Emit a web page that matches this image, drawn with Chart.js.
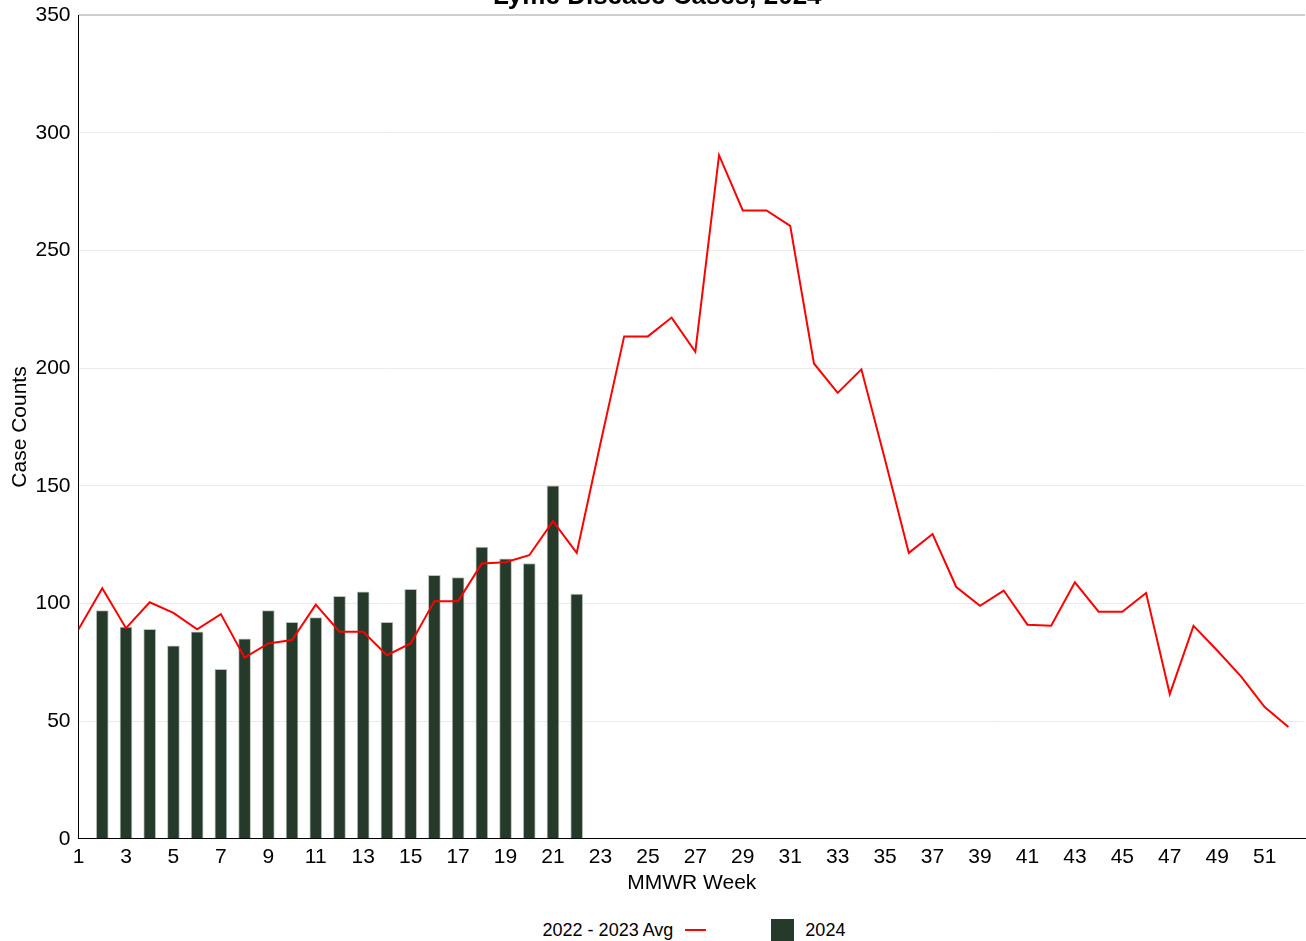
<!DOCTYPE html>
<html>
<head>
<meta charset="utf-8">
<script src="https://cdn.jsdelivr.net/npm/chart.js@4/dist/chart.umd.min.js"></script>
<style>
  html, body { margin: 0; padding: 0; background: #fff; }
  #wrap { position: relative; width: 1306px; height: 941px; overflow: hidden; }
  #chartBox { position: absolute; left: 0; top: -20px; width: 1306px; height: 922px; }
  #legend { position: absolute; left: 41px; top: 918px; width: 1306px; display: flex; justify-content: center;
            font-family: "Liberation Sans", Arial, sans-serif; font-size: 18px; color: #000; }
  .item { display: flex; align-items: center; height: 24px; }
  .line { width: 21px; height: 2px; margin-left: 12px; }
  .box { width: 23px; height: 23px; margin-right: 11px; }
</style>
</head>
<body>
<div id="wrap">
  <div id="chartBox"><canvas id="lymeChart"></canvas></div>
  <div id="legend"></div>
</div>
<script>
// MMWR weeks 1..52
const weeks = [1, 2, 3, 4, 5, 6, 7, 8, 9, 10, 11, 12, 13, 14, 15, 16, 17, 18, 19, 20, 21, 22, 23, 24, 25, 26,
               27, 28, 29, 30, 31, 32, 33, 34, 35, 36, 37, 38, 39, 40, 41, 42, 43, 44, 45, 46, 47, 48, 49, 50, 51, 52];
const weekTicks = [1, 3, 5, 7, 9, 11, 13, 15, 17, 19, 21, 23, 25, 27, 29, 31, 33, 35, 37, 39, 41, 43, 45, 47, 49, 51];
const yTicks = [0, 50, 100, 150, 200, 250, 300, 350];

// 2022 - 2023 average (red line)
const avg2223 = [89, 106.5, 89.5, 100.5, 96, 89, 95.5, 77, 83, 84.5, 99.5, 88, 88, 78, 83, 101, 101, 117, 117.5, 120.5, 135, 121.5,
                 168, 213.5, 213.5, 221.5, 207, 290.5, 267, 267, 260.5, 202, 189.5, 199.5, 161, 121.5, 129.5, 107, 99, 105.5,
                 91, 90.5, 109, 96.5, 96.5, 104.5, 61.5, 90.5, 80, 69, 56, 47.5];
// 2024 weekly cases (bars), week 1 not shown
const cases2024 = [null, 97, 90, 89, 82, 88, 72, 85, 97, 92, 94, 103, 105, 92, 106, 112, 111, 124, 119, 117, 150, 104];

const legendLabels = ['2022 - 2023 Avg', '2024'];

const lineColor = '#ff0000';
const barColor = '#263a2b';

const ctx = document.getElementById('lymeChart');
const lymeChart = new Chart(ctx, {
    data: {
        datasets: [{
                type: 'line',
                label: legendLabels[0],
                data: weeks.map((w, i) => ({ x: w, y: avg2223[i] })),
                borderColor: lineColor,
                backgroundColor: lineColor,
                borderWidth: 2,
                pointRadius: 0,
                tension: 0,
                order: 0
            },
            {
                type: 'bar',
                label: legendLabels[1],
                data: cases2024.map((v, i) => ({ x: weeks[i], y: v })),
                backgroundColor: barColor,
                borderColor: 'rgba(140,150,140,0.6)',
                borderWidth: 1,
                barThickness: 12,
                order: 1
            }
        ]
    },
    options: {
        responsive: true,
        maintainAspectRatio: false,
        animation: false,
        layout: {
            padding: { left: 9.5, right: 1, top: 0, bottom: 8 }
        },
        plugins: {
            legend: { display: false },
            tooltip: { enabled: false },
            title: {
                display: true,
                text: 'Lyme Disease Cases, 2024',
                color: '#000',
                font: { family: 'Liberation Sans', size: 26, weight: 'bold' },
                padding: { top: 1, bottom: 3 }
            }
        },
        scales: {
            x: {
                type: 'linear',
                offset: false,
                min: 1,
                max: 52.7,
                afterBuildTicks: function(axis) {
                    axis.ticks = weekTicks.map(v => ({ value: v }));
                },
                grid: { display: false, drawTicks: false, offset: false },
                border: { color: '#000', width: 1 },
                ticks: {
                    color: '#000',
                    padding: 6,
                    maxRotation: 0,
                    autoSkip: false,
                    font: { family: 'Liberation Sans', size: 21 }
                },
                title: {
                    display: true,
                    text: 'MMWR Week',
                    color: '#000',
                    font: { family: 'Liberation Sans', size: 21, lineHeight: 1 },
                    padding: { top: -3, bottom: 0 }
                }
            },
            y: {
                min: 0,
                max: 350,
                afterBuildTicks: function(axis) {
                    axis.ticks = yTicks.map(v => ({ value: v }));
                },
                grid: {
                    drawTicks: false,
                    color: ctx2 => (ctx2.tick && ctx2.tick.value === 350) ? '#cfcfcf' : '#ebebeb',
                    lineWidth: ctx2 => (ctx2.tick && ctx2.tick.value === 350) ? 2 : 1
                },
                border: { color: '#000', width: 1 },
                ticks: {
                    color: '#000',
                    padding: 8,
                    font: { family: 'Liberation Sans', size: 21 }
                },
                title: {
                    display: true,
                    text: 'Case Counts',
                    color: '#000',
                    font: { family: 'Liberation Sans', size: 21, lineHeight: 1 },
                    padding: { top: 0, bottom: -3 }
                }
            }
        }
    }
});

// legend below the chart: line marker after the text, box before the text
const legendDiv = document.getElementById('legend');
const item1 = document.createElement('div');
item1.className = 'item';
item1.innerHTML = '<span>' + legendLabels[0] + '</span><span class="line" style="background:' + lineColor + '"></span>';
const item2 = document.createElement('div');
item2.className = 'item';
item2.style.marginLeft = '65px';
item2.innerHTML = '<span class="box" style="background:' + barColor + '"></span><span>' + legendLabels[1] + '</span>';
legendDiv.appendChild(item1);
legendDiv.appendChild(item2);
</script>
</body>
</html>
